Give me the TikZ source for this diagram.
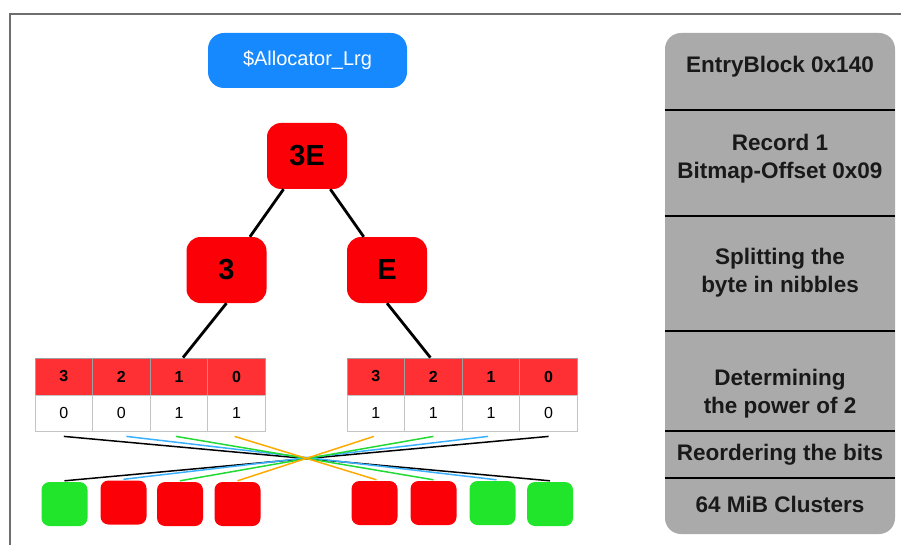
\documentclass[tikz,border=0pt]{standalone}
\usepackage{fontspec}
\setmainfont{Liberation Sans}
\usetikzlibrary{calc}

\definecolor{frameline}{HTML}{6E6E6E}
\definecolor{tagblue}{HTML}{1689FE}
\definecolor{nodered}{HTML}{FC0008}
\definecolor{headred}{HTML}{FE3033}
\definecolor{bitgreen}{HTML}{20E52B}
\definecolor{panelgray}{HTML}{AAAAAA}
\definecolor{cellline}{HTML}{A0A0A0}
\definecolor{bitline}{HTML}{C4C4C4}
\definecolor{wireblue}{HTML}{3AB0FF}
\definecolor{wiregreen}{HTML}{22DA33}
\definecolor{wireorange}{HTML}{FFAA00}

\begin{document}
\begin{tikzpicture}[x=1pt,y=-1pt,
  tag/.style={fill=tagblue, rounded corners=16pt, minimum width=199pt, minimum height=55pt,
    text=white, font=\fontsize{20}{20}\selectfont, inner sep=0},
  hexnode/.style={fill=nodered, rounded corners=14pt, minimum width=80pt, minimum height=66pt,
    font=\fontsize{29}{29}\selectfont\bfseries, inner sep=0},
  headcell/.style={draw=cellline, fill=headred, minimum width=57.6pt, minimum height=37pt,
    font=\fontsize{16}{16}\selectfont\bfseries, inner sep=0, line width=0.8pt},
  bitcell/.style={draw=bitline, fill=white, minimum width=57.6pt, minimum height=36pt,
    font=\fontsize{16}{16}\selectfont, inner sep=0, line width=0.8pt},
  cluster/.style={rounded corners=8pt, minimum width=46pt, minimum height=44pt, inner sep=0},
  free/.style={cluster, fill=bitgreen},
  used/.style={cluster, fill=nodered},
  edge/.style={line width=2.8pt, black},
  wire/.style={line width=1.5pt},
  steplabel/.style={font=\fontsize{22.5}{28}\selectfont\bfseries, text=black!90, align=center},
  divider/.style={line width=1.6pt, black}]

\useasboundingbox (0,0) rectangle (901,545);

% outer frame (only top and left edges fall inside the page)
\draw[frameline, line width=1.2pt] (10,545) -- (10,14) -- (901,14);

% allocator tag
\node[tag] (alloc) at (307.5,60.5) {\$Allocator\_Lrg};

% byte and its two nibbles
\node[hexnode] (root) at (307,156) {3E};
\node[hexnode] (lo) at (226.5,270) {3};
\node[hexnode] (hi) at (387,270) {E};

% nibble bit tables
\foreach \i/\x/\b in {3/63.8/0, 2/121.4/0, 1/179/1, 0/236.6/1} {
  \node[headcell] (L\i) at (\x,376.5) {\i};
  \node[bitcell] (Lb\i) at (\x,413) {\b};
}
\foreach \i/\x/\b in {3/375.8/1, 2/433.4/1, 1/491/1, 0/548.6/0} {
  \node[headcell] (R\i) at (\x,376.5) {\i};
  \node[bitcell] (Rb\i) at (\x,413) {\b};
}

% tree edges
\draw[edge] (root) -- (lo);
\draw[edge] (root) -- (hi);
\draw[edge] (lo.south) -- ([xshift=4pt]L1.north);
\draw[edge] (hi.south) -- ([xshift=-3pt]R2.north);

% 64 MiB clusters
\node[free] (S1) at (64.5,504) {};
\node[used] (S2) at (123.5,502.5) {};
\node[used] (S3) at (180,504) {};
\node[used] (S4) at (237.5,504) {};
\node[used] (S5) at (374.5,503) {};
\node[used] (S6) at (433.5,503) {};
\node[free] (S7) at (492.5,503) {};
\node[free] (S8) at (550,504) {};

% reordering of the bits
\draw[wire, black]      ([yshift=-5pt]Lb3.south) -- ([yshift=1pt]S8.north);
\draw[wire, black]      ([yshift=-5pt]Rb0.south) -- ([yshift=1pt]S1.north);
\draw[wire, wireblue]   ([yshift=-5pt,xshift=5pt]Lb2.south) -- ([yshift=1pt,xshift=4pt]S7.north);
\draw[wire, wireblue]   ([yshift=-5pt,xshift=-3pt]Rb1.south) -- ([yshift=1pt]S2.north);
\draw[wire, wiregreen]  ([yshift=-5pt,xshift=-3pt]Lb1.south) -- ([yshift=1pt]S6.north);
\draw[wire, wiregreen]  ([yshift=-5pt]Rb2.south) -- ([yshift=1pt]S3.north);
\draw[wire, wireorange] ([yshift=-5pt,xshift=-2pt]Lb0.south) -- ([yshift=1pt,xshift=2pt]S5.north);
\draw[wire, wireorange] ([yshift=-5pt,xshift=-2pt]Rb3.south) -- ([yshift=1pt]S4.north);

% step legend
\node[fill=panelgray, rounded corners=16pt, minimum width=230pt, minimum height=501pt, inner sep=0]
  (panel) at (780,283.5) {};
\foreach \y in {110,216,331,431,478}
  \draw[divider] (panel.west |- 0,\y) -- (panel.east |- 0,\y);
\node[steplabel] (s1) at (780,66.5)  {EntryBlock 0x140};
\node[steplabel] (s2) at (780,158.5) {Record 1\\Bitmap-Offset 0x09};
\node[steplabel] (s3) at (780,273)   {Splitting the\\byte in nibbles};
\node[steplabel] (s4) at (780,393.5) {Determining\\the power of 2};
\node[steplabel] (s5) at (780,454.5) {Reordering the bits};
\node[steplabel] (s6) at (780,504)   {64 MiB Clusters};
\end{tikzpicture}
\end{document}
